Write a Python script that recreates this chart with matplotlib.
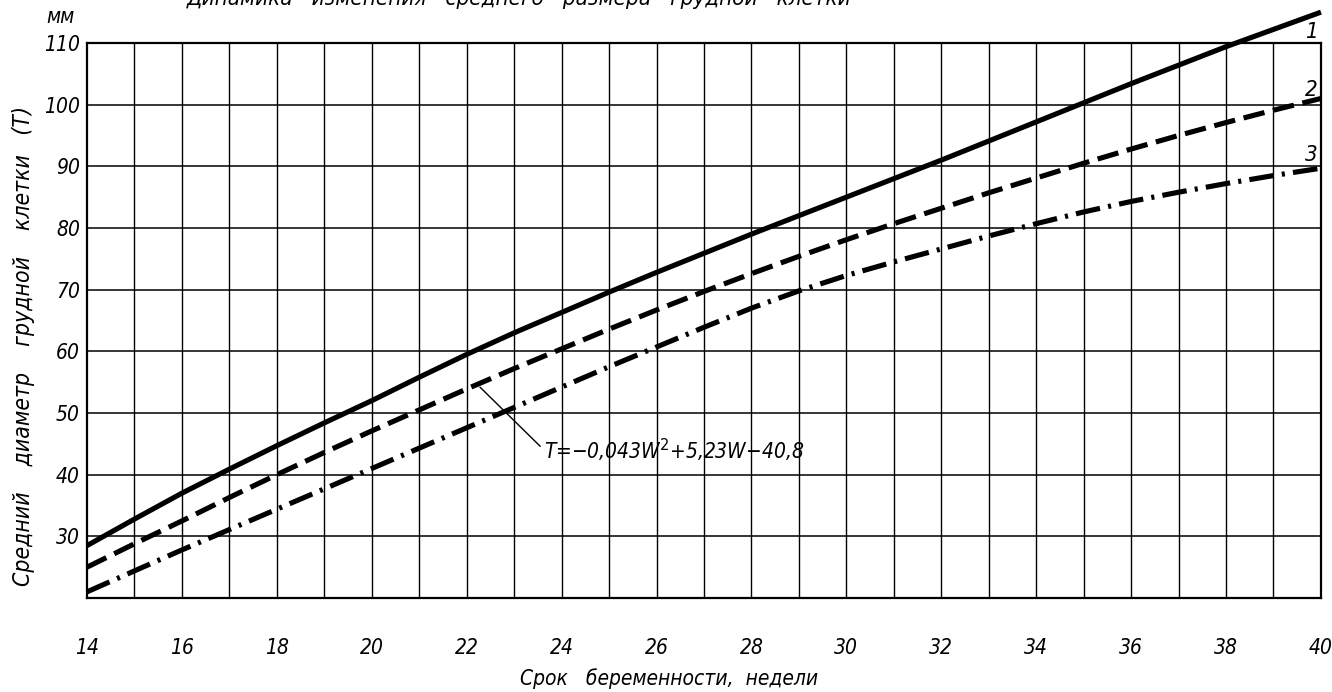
import matplotlib
matplotlib.use("Agg")
import matplotlib.pyplot as plt

weeks = [14, 15, 16, 17, 18, 19, 20, 21, 22, 23, 24, 25, 26, 27, 28, 29, 30,
         31, 32, 33, 34, 35, 36, 37, 38, 39, 40]
curve1 = [28.5, 32.8, 37.0, 40.9, 44.7, 48.4, 52.0, 55.8, 59.5, 63.0, 66.3, 69.6, 72.8,
          75.9, 79.0, 82.0, 85.0, 88.0, 91.0, 94.1, 97.2, 100.3, 103.4, 106.4, 109.4,
          112.2, 115.0]
curve2 = [25.0, 28.8, 32.5, 36.3, 40.0, 43.6, 47.1, 50.5, 53.9, 57.2, 60.4, 63.6, 66.7,
          69.7, 72.6, 75.4, 78.1, 80.7, 83.2, 85.7, 88.1, 90.5, 92.8, 95.0, 97.1,
          99.1, 101.0]
curve3 = [21.0, 24.4, 27.8, 31.1, 34.4, 37.7, 41.0, 44.3, 47.6, 50.9, 54.2, 57.5, 60.7,
          63.9, 67.0, 69.8, 72.3, 74.5, 76.6, 78.7, 80.7, 82.6, 84.3, 85.8, 87.2,
          88.5, 89.7]
curve_labels = ["1", "2", "3"]
x_ticks = list(range(14, 41, 2))
y_ticks = list(range(30, 111, 10))
formula = "T=−0,043W$^{2}$+5,23W−40,8"
title = "Динамика   изменения   среднего   размера   грудной   клетки"
xlabel = "Срок   беременности,  недели"
ylabel = "Средний    диаметр    грудной    клетки   (T)"

FONT = dict(family="DejaVu Sans", style="italic", stretch="condensed")
plt.rcParams["mathtext.default"] = "it"

fig = plt.figure(figsize=(13.32, 6.92), dpi=100)
ax = fig.add_axes([0.0653, 0.1358, 0.9264, 0.8021])
ax.set_xlim(14, 40)
ax.set_ylim(20, 110)

# grid
for w in range(15, 40):
    ax.axvline(w, color="black", lw=1.0, zorder=1)
for v in range(30, 110, 10):
    ax.axhline(v, color="black", lw=1.1, zorder=1)
for s in ax.spines.values():
    s.set_linewidth(1.6)
    s.set_color("black")

lw = 3.7
ax.plot(weeks, curve1, color="black", lw=lw, solid_capstyle="butt",
        solid_joinstyle="round", clip_on=False, zorder=3)
ax.plot(weeks, curve2, color="black", lw=lw, linestyle=(0, (4.2, 1.7)),
        dash_capstyle="butt", clip_on=False, zorder=3)
ax.plot(weeks, curve3, color="black", lw=lw, linestyle=(0, (4.8, 1.6, 0.6, 1.6)),
        dash_capstyle="butt", clip_on=False, zorder=3)

label_offsets = [-3.2, 1.4, 2.1]
for lab, ys, off in zip(curve_labels, [curve1, curve2, curve3], label_offsets):
    ax.text(39.8, ys[-1] + off, lab, ha="center", va="center", fontsize=16,
            clip_on=False, **FONT)

ax.set_xticks(x_ticks)
ax.set_yticks(y_ticks)
ax.set_xticklabels([str(t) for t in x_ticks], fontsize=15, **FONT)
ax.set_yticklabels([str(t) for t in y_ticks], fontsize=15, **FONT)
ax.tick_params(axis="x", length=0, pad=29)
ax.tick_params(axis="y", length=0, pad=5)

# annotation leader + formula
ax.annotate("", xy=(22.28, 54.2), xytext=(23.55, 44.6),
            arrowprops=dict(arrowstyle="-", color="black", lw=1.0, shrinkA=0, shrinkB=0))
ax.text(23.62, 43.9, formula, fontsize=15, va="center", ha="left", **FONT)

fig.text(0.502, 0.02, xlabel, ha="center", va="center", fontsize=15, **FONT)
fig.text(0.018, 0.50, ylabel, ha="center", va="center", rotation=90, fontsize=16.5, **FONT)
fig.text(0.045, 0.975, "мм", ha="center", va="center", fontsize=15, **FONT)
fig.text(0.39, 1.002, title, ha="center", va="center", fontsize=16, **FONT)

fig.savefig("out.png", dpi=100)
